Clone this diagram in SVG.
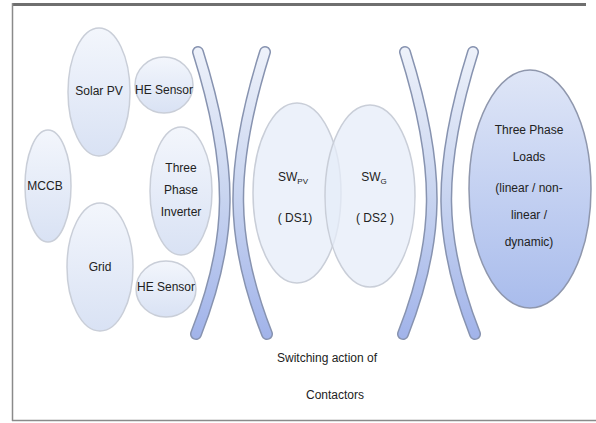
<svg xmlns="http://www.w3.org/2000/svg" width="596" height="423" viewBox="0 0 596 423">
<defs>
<linearGradient id="gNode" x1="0" y1="0" x2="0" y2="1">
<stop offset="0" stop-color="#f3f6fc"/>
<stop offset="1" stop-color="#d9e2f4"/>
</linearGradient>
<linearGradient id="gLoad" x1="0" y1="0" x2="0" y2="1">
<stop offset="0" stop-color="#dfe6f7"/>
<stop offset="1" stop-color="#a9bcec"/>
</linearGradient>
<linearGradient id="gArc" gradientUnits="userSpaceOnUse" x1="0" y1="50" x2="0" y2="336">
<stop offset="0" stop-color="#edf1fa"/>
<stop offset="0.5" stop-color="#c9d5f0"/>
<stop offset="1" stop-color="#a2b4ea"/>
</linearGradient>
</defs>
<style>
.node{fill:url(#gNode);stroke:#c9ced8;stroke-width:1.5}
.sw{fill:#e6ecf8;fill-opacity:0.75;stroke:#c9ced8;stroke-width:1.5}
.load{fill:url(#gLoad);stroke:#8f97ad;stroke-width:1.5}
.arcOut{fill:none;stroke:#8793b0;stroke-width:12;stroke-linecap:round}
.arcIn{fill:none;stroke:url(#gArc);stroke-width:9;stroke-linecap:round}
text{font-family:"Liberation Sans",Arial,sans-serif;font-size:12px;fill:#222;text-anchor:middle}
.sub{font-size:8px}
</style>
<rect width="596" height="423" fill="#ffffff"/>
<g id="frame">
<line x1="12" y1="4.5" x2="586" y2="4.5" stroke="#6f6f6f" stroke-width="3"/>
<line x1="12.5" y1="3" x2="12.5" y2="421" stroke="#8a8a8a" stroke-width="1.5"/>
<line x1="12" y1="420.5" x2="596" y2="420.5" stroke="#8a8a8a" stroke-width="1.5"/>
</g>
<g id="connectors">
<path class="arcOut" d="M198,52 C235,170 233,240 196,334"/>
<path class="arcIn" d="M198,52 C235,170 233,240 196,334"/>
<path class="arcOut" d="M265,52 C228,170 230,240 267,334"/>
<path class="arcIn" d="M265,52 C228,170 230,240 267,334"/>
<path class="arcOut" d="M405,52 C442,170 440,240 403,334"/>
<path class="arcIn" d="M405,52 C442,170 440,240 403,334"/>
<path class="arcOut" d="M473,52 C436,170 438,240 475,334"/>
<path class="arcIn" d="M473,52 C436,170 438,240 475,334"/>
</g>
<g id="solar-pv"><ellipse class="node" cx="99" cy="92" rx="31" ry="64"/><text x="99" y="95">Solar PV</text></g>
<g id="he-sensor-top"><ellipse class="node" cx="164" cy="85" rx="29" ry="28"/><text x="164" y="94">HE Sensor</text></g>
<g id="mccb"><ellipse class="node" cx="48" cy="186" rx="23" ry="56"/><text x="45" y="190">MCCB</text></g>
<g id="grid"><ellipse class="node" cx="100" cy="267" rx="33" ry="64"/><text x="100" y="271">Grid</text></g>
<g id="inverter"><ellipse class="node" cx="181" cy="191" rx="31" ry="64"/><text x="181" y="172">Three</text><text x="181" y="194">Phase</text><text x="181" y="216">Inverter</text></g>
<g id="he-sensor-bottom"><ellipse class="node" cx="166" cy="289" rx="30" ry="28"/><text x="166" y="291">HE Sensor</text></g>
<g id="sw-pv"><ellipse class="sw" cx="297" cy="193" rx="44" ry="90"/><text x="293" y="181">SW<tspan class="sub" dy="3">PV</tspan></text><text x="295" y="222">( DS1)</text></g>
<g id="sw-g"><ellipse class="sw" cx="370" cy="196" rx="45" ry="91"/><text x="374" y="181">SW<tspan class="sub" dy="3">G</tspan></text><text x="375" y="222">( DS2 )</text></g>
<g id="loads"><ellipse class="load" cx="530" cy="189" rx="61" ry="119"/><text x="529" y="134">Three Phase</text><text x="529" y="161">Loads</text><text x="529" y="192">(linear / non-</text><text x="529" y="219">linear /</text><text x="529" y="246">dynamic)</text></g>
<g id="label"><text x="327" y="362">Switching action of</text><text x="335" y="399">Contactors</text></g>
</svg>
